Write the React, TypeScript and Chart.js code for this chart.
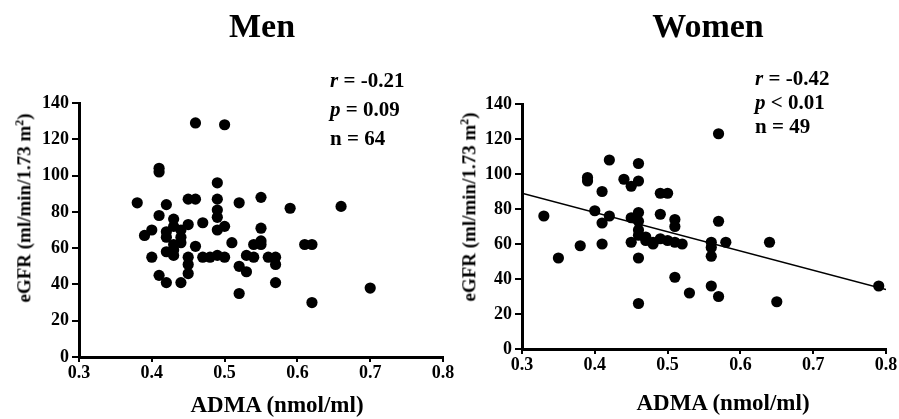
import React, { useEffect, useRef } from "react";
import { Chart, registerables } from "chart.js";

Chart.register(...registerables);

// ---- Data ----
const menADMA = [
  0.46, 0.50, 0.41, 0.41, 0.38, 0.42, 0.45, 0.46, 0.49, 0.49, 0.49, 0.49, 0.49, 0.50, 0.52, 0.55,
  0.59, 0.66, 0.41, 0.43, 0.45, 0.47, 0.39, 0.40, 0.42, 0.42, 0.43, 0.44, 0.43, 0.44, 0.46, 0.40,
  0.42, 0.43, 0.45, 0.45, 0.45, 0.44, 0.41, 0.42, 0.47, 0.49, 0.50, 0.51, 0.55, 0.54, 0.55, 0.55,
  0.61, 0.62, 0.53, 0.54, 0.52, 0.53, 0.56, 0.57, 0.57, 0.57, 0.52, 0.62, 0.70, 0.44, 0.43, 0.48,
];
const menEGFR = [
  129, 128, 104, 102, 85, 84, 87, 87, 96, 87, 81, 77, 70, 72, 85, 88,
  82, 83, 78, 76, 73, 74, 67, 70, 69, 66, 72, 63, 59, 66, 61, 55,
  58, 56, 55, 51, 46, 41, 45, 41, 55, 56, 55, 63, 71, 62, 64, 62,
  62, 62, 56, 55, 50, 47, 55, 55, 51, 41, 35, 30, 38, 70, 62, 55,
];

const womenADMA = [
  0.42, 0.46, 0.39, 0.39, 0.44, 0.45, 0.46, 0.41, 0.49, 0.50, 0.33, 0.40, 0.41, 0.42, 0.45, 0.46,
  0.46, 0.46, 0.49, 0.38, 0.41, 0.45, 0.46, 0.35, 0.46, 0.47, 0.48, 0.48, 0.49, 0.51, 0.51, 0.57,
  0.51, 0.52, 0.56, 0.58, 0.56, 0.64, 0.51, 0.53, 0.56, 0.57, 0.65, 0.57, 0.79, 0.46, 0.50, 0.47,
  0.56,
];
const womenEGFR = [
  108, 106, 98, 96, 97, 93, 96, 90, 89, 89, 76, 79, 72, 76, 75, 78,
  73, 68, 77, 59, 60, 61, 52, 52, 26, 62, 61, 60, 63, 74, 70, 73,
  61, 60, 61, 61, 53, 61, 41, 32, 36, 30, 27, 123, 36, 65, 62, 64,
  58,
];

// regression line for women (end points on the x-axis range)
const womenFitX = [0.3, 0.8];
const womenFitY = [89, 34];

const xRange = [0.3, 0.8];
const xStep = 0.1;
const yRange = [0, 140];
const yStep = 20;

const FONT = "'Liberation Serif', 'Times New Roman', serif";

type PanelProps = {
  xs: number[];
  ys: number[];
  fitX?: number[];
  fitY?: number[];
  left: number;
  width: number;
  height: number;
  padTop: number;
  padRight: number;
  yWidth: number;
  xHeight: number;
};

function ScatterPanel(p: PanelProps) {
  const ref = useRef<HTMLCanvasElement | null>(null);
  useEffect(() => {
    if (!ref.current) return;
    const pts = p.xs.map((x, i) => ({ x, y: p.ys[i] }));
    const datasets: any[] = [
      {
        data: pts,
        pointRadius: 5.6,
        pointBackgroundColor: "#000",
        pointBorderWidth: 0,
        showLine: false,
      },
    ];
    if (p.fitX && p.fitY) {
      datasets.push({
        data: p.fitX.map((x, i) => ({ x, y: p.fitY![i] })),
        showLine: true,
        borderColor: "#000",
        borderWidth: 1.5,
        pointRadius: 0,
      });
    }
    const tickFont = { family: FONT, size: 18, weight: "bold" as const };
    const chart = new Chart(ref.current, {
      type: "scatter",
      data: { datasets },
      options: {
        animation: false,
        responsive: false,
        maintainAspectRatio: false,
        layout: { padding: { left: 0, top: p.padTop, right: p.padRight, bottom: 0 } },
        plugins: { legend: { display: false }, tooltip: { enabled: false }, title: { display: false } },
        scales: {
          x: {
            type: "linear",
            min: xRange[0],
            max: xRange[1],
            ticks: {
              stepSize: xStep,
              color: "#000",
              font: tickFont,
              padding: 1,
              maxRotation: 0,
              callback: (v: any) => Number(v).toFixed(1),
            },
            grid: { drawOnChartArea: false, drawTicks: true, tickLength: 5, color: "#000", lineWidth: 2 },
            border: { display: true, color: "#000", width: 3 },
            afterFit: (s: any) => {
              s.height = p.xHeight;
            },
          },
          y: {
            type: "linear",
            min: yRange[0],
            max: yRange[1],
            ticks: {
              stepSize: yStep,
              color: "#000",
              font: tickFont,
              padding: 3,
            },
            grid: { drawOnChartArea: false, drawTicks: true, tickLength: 7, color: "#000", lineWidth: 2 },
            border: { display: true, color: "#000", width: 3 },
            afterFit: (s: any) => {
              s.width = p.yWidth;
            },
          },
        },
      },
    });
    return () => chart.destroy();
  }, []);
  return (
    <canvas
      ref={ref}
      width={p.width}
      height={p.height}
      style={{ position: "absolute", left: p.left, top: 0, width: p.width, height: p.height }}
    />
  );
}

const txt: React.CSSProperties = {
  position: "absolute",
  fontFamily: FONT,
  fontWeight: "bold",
  color: "#000",
  whiteSpace: "nowrap",
};

function YTitle({ cx, cy }: { cx: number; cy: number }) {
  return (
    <div
      style={{
        ...txt,
        fontSize: 19,
        left: cx,
        top: cy,
        transform: "translate(-50%, -50%) rotate(-90deg)",
        lineHeight: "20px",
      }}
    >
      eGFR (ml/min/1.73 m<sup style={{ fontSize: 12 }}>2</sup>)
    </div>
  );
}

function XTitle({ cx, cy }: { cx: number; cy: number }) {
  return (
    <div style={{ ...txt, fontSize: 23, left: cx, top: cy, transform: "translate(-50%, -50%)", lineHeight: "26px" }}>
      ADMA (nmol/ml)
    </div>
  );
}

function Stats({ left, top, lh, r, p, n }: { left: number; top: number; lh: number; r: string; p: string; n: string }) {
  return (
    <div style={{ ...txt, fontSize: 21, left, top, lineHeight: lh + "px" }}>
      <div>
        <i>r</i> = {r}
      </div>
      <div>
        <i>p</i> {p}
      </div>
      <div>n = {n}</div>
    </div>
  );
}

export default function App() {
  return (
    <div style={{ position: "absolute", left: 0, top: 0, width: 899, height: 419, background: "#fff", overflow: "hidden" }}>
      <ScatterPanel
        xs={menADMA}
        ys={menEGFR}
        left={0}
        width={470}
        height={419}
        padTop={103}
        padRight={27}
        yWidth={79}
        xHeight={62}
      />
      <ScatterPanel
        xs={womenADMA}
        ys={womenEGFR}
        fitX={womenFitX}
        fitY={womenFitY}
        left={440}
        width={459}
        height={419}
        padTop={104}
        padRight={13}
        yWidth={82}
        xHeight={70}
      />
      <div style={{ ...txt, fontSize: 34, left: 262, top: 9, transform: "translateX(-50%)", lineHeight: "34px" }}>Men</div>
      <div style={{ ...txt, fontSize: 34, left: 708, top: 9, transform: "translateX(-50%)", lineHeight: "34px" }}>Women</div>
      <YTitle cx={22} cy={208} />
      <YTitle cx={467} cy={207} />
      <XTitle cx={277} cy={405} />
      <XTitle cx={723} cy={403} />
      <Stats left={330} top={66} lh={29} r="-0.21" p="= 0.09" n="64" />
      <Stats left={755} top={66} lh={24} r="-0.42" p="< 0.01" n="49" />
    </div>
  );
}
